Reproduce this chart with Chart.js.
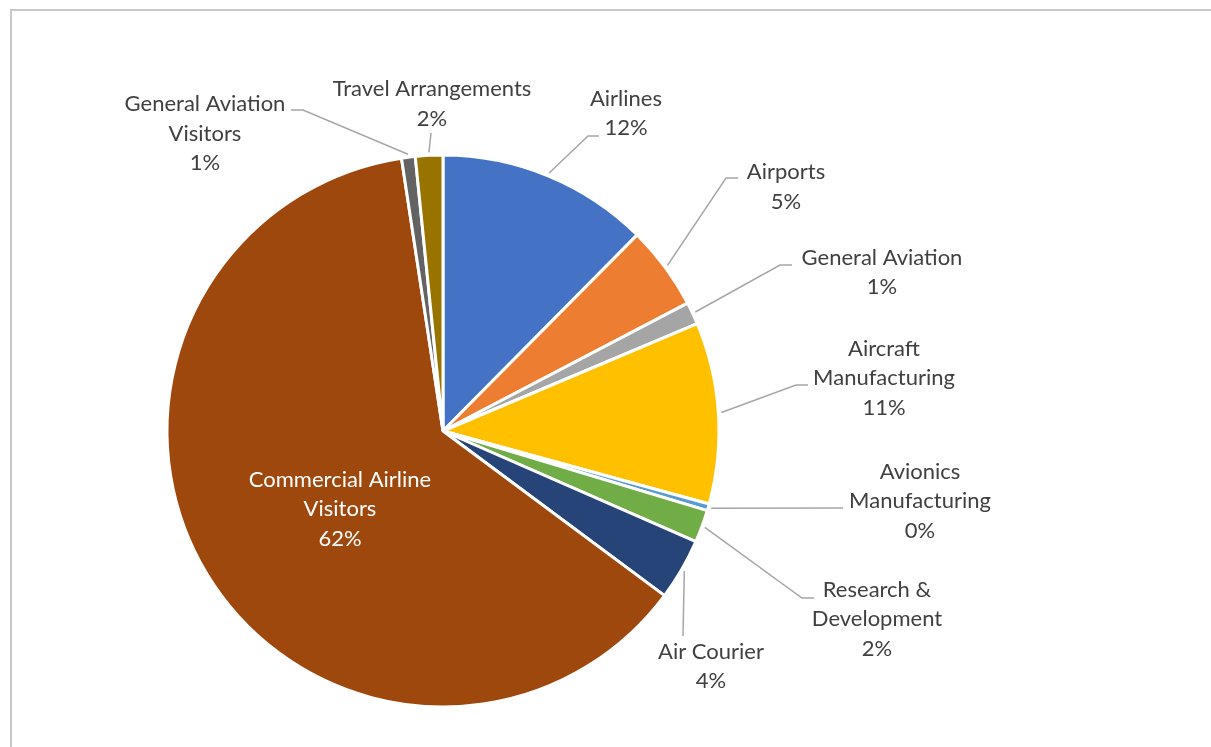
<!DOCTYPE html>
<html>
<head>
<meta charset="utf-8">
<title>Aviation share by segment</title>
<script src="https://cdn.jsdelivr.net/npm/chart.js@4.4.1/dist/chart.umd.min.js"></script>
<style>
  html, body { margin: 0; padding: 0; background: #ffffff; }
  #wrap { position: relative; width: 1211px; height: 747px; overflow: hidden; }
  #frame { position: absolute; left: 10px; top: 9px; width: 1220px; height: 760px;
           border-top: 2px solid #c8c8c8; border-left: 2px solid #c8c8c8; }
  #chart { position: absolute; left: 0; top: 0; }
</style>
</head>
<body>
<div id="wrap">
  <div id="frame"></div>
  <canvas id="chart" width="1211" height="747"></canvas>
</div>
<script>
// Segments, clockwise from twelve o'clock
const categories = [
  'Airlines', 'Airports', 'General Aviation', 'Aircraft Manufacturing',
  'Avionics Manufacturing', 'Research & Development', 'Air Courier',
  'Commercial Airline Visitors', 'General Aviation Visitors', 'Travel Arrangements'
];

// Share of total (percent)
const shares = [12.4, 4.9, 1.3, 10.6, 0.4, 1.9, 3.6, 62.3, 0.8, 1.6];

// Label text, split into the lines it is printed on (percentage added below)
const labelLines = [
  ['Airlines'], ['Airports'], ['General Aviation'], ['Aircraft', 'Manufacturing'],
  ['Avionics', 'Manufacturing'], ['Research &', 'Development'], ['Air Courier'],
  ['Commercial Airline', 'Visitors'], ['General Aviation', 'Visitors'], ['Travel Arrangements']
];

const sliceColors = [
  '#4472C4', '#ED7D31', '#A5A5A5', '#FFC000', '#5B9BD5',
  '#70AD47', '#264478', '#9E480E', '#636363', '#997300'
];

// Where each label block sits (offset of its centre from the pie centre),
// where its leader line meets it (offset from the label centre) and the
// length of the short horizontal tail before the label.
const labelLayout = [
  { dx: 183,  dy: -317.5, ex: -27, ey: 22.5,  tail: 11 },
  { dx: 343,  dy: -244,   ex: -48, ey: -9,    tail: 12 },
  { dx: 439,  dy: -158.5, ex: -90, ey: -7.5,  tail: 12 },
  { dx: 441,  dy: -53,    ex: -76, ey: 7,     tail: 12 },
  { dx: 477,  dy: 70,     ex: -77, ey: 7,     tail: 0 },
  { dx: 434,  dy: 188,    ex: -63, ey: -21,   tail: 12 },
  { dx: 268,  dy: 235.5,  ex: -28, ey: -30.5, tail: 0 },
  { dx: -103, dy: 78,     inside: true },
  { dx: -238, dy: -297.5, ex: 86,  ey: -23.5, tail: -12 },
  { dx: -11,  dy: -327,   ex: -1,  ey: 29,    tail: 0 }
];

const FONT = '22px Lato, "Open Sans", sans-serif';
const LINE_H = 29.5;

const sliceLabels = {
  id: 'sliceLabels',
  afterDatasetsDraw(chart) {
    const ctx = chart.ctx;
    const meta = chart.getDatasetMeta(0);
    const total = shares.reduce((a, b) => a + b, 0);
    ctx.save();
    meta.data.forEach((arc, i) => {
      const { x, y, startAngle, endAngle, outerRadius } =
        arc.getProps(['x', 'y', 'startAngle', 'endAngle', 'outerRadius'], true);
      const mid = (startAngle + endAngle) / 2;
      const lay = labelLayout[i];
      const cx = x + lay.dx;
      const cy = y + lay.dy;

      if (!lay.inside) {
        const r0 = outerRadius + 3;
        const sx = x + Math.cos(mid) * r0;
        const sy = y + Math.sin(mid) * r0;
        const exx = cx + lay.ex;
        const eyy = cy + lay.ey;
        ctx.beginPath();
        ctx.moveTo(sx, sy);
        ctx.lineTo(exx - lay.tail, eyy);
        ctx.lineTo(exx, eyy);
        ctx.strokeStyle = '#A6A6A6';
        ctx.lineWidth = 1.5;
        ctx.stroke();
      }

      const pct = Math.round(shares[i] / total * 100) + '%';
      const lines = labelLines[i].concat([pct]);
      ctx.font = FONT;
      ctx.fillStyle = lay.inside ? '#ffffff' : '#404040';
      ctx.textAlign = 'center';
      ctx.textBaseline = 'middle';
      lines.forEach((t, k) => {
        ctx.fillText(t, cx, cy + (k - (lines.length - 1) / 2) * LINE_H);
      });
    });
    ctx.restore();
  }
};

new Chart(document.getElementById('chart'), {
  type: 'pie',
  data: {
    labels: categories,
    datasets: [{
      data: shares,
      backgroundColor: sliceColors,
      borderColor: '#ffffff',
      borderWidth: 3,
      hoverOffset: 0,
      offset: 0
    }]
  },
  options: {
    responsive: false,
    animation: false,
    events: [],
    radius: 276,
    layout: { padding: { left: 168, right: 493, top: 156, bottom: 41 } },
    plugins: {
      legend: { display: false },
      tooltip: { enabled: false }
    }
  },
  plugins: [sliceLabels]
});
</script>
</body>
</html>
